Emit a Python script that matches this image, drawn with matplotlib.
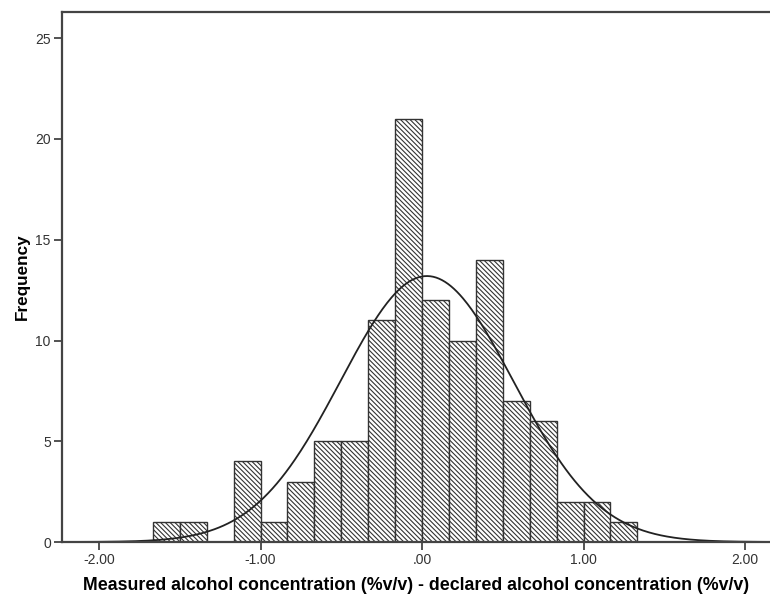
import numpy as np
import matplotlib.pyplot as plt

plt.rcParams['font.family'] = ['Liberation Sans', 'DejaVu Sans']
plt.rcParams['hatch.linewidth'] = 0.8
plt.rcParams['hatch.color'] = '#333333'

# Histogram bins (width 1/6) and counts
bin_width = 1 / 6
first_edge = -10 * bin_width
counts = [1, 1, 0, 4, 1, 3, 5, 5, 11, 21, 12, 10, 14, 7, 6, 2, 2, 1]

# Fitted normal curve parameters
mean = 0.03
std_dev = 0.534

x_ticks = [-2, -1, 0, 1, 2]
x_tick_labels = ['-2.00', '-1.00', '.00', '1.00', '2.00']
y_ticks = [0, 5, 10, 15, 20, 25]

fig = plt.figure(figsize=(7.70, 5.98), dpi=100)
ax = fig.add_axes([0.0805, 0.0936, 0.9195, 0.8863])

edges = first_edge + bin_width * np.arange(len(counts))
ax.bar(edges, counts, width=bin_width, align='edge', color='white',
       edgecolor='#333333', linewidth=1.0, hatch='\\' * 7)

n = sum(counts)
xs = np.linspace(-2.3, 2.3, 500)
ys = n * bin_width / (std_dev * np.sqrt(2 * np.pi)) * np.exp(-(xs - mean) ** 2 / (2 * std_dev ** 2))
ax.plot(xs, ys, color='#222222', linewidth=1.3)

ax.set_xlim(-2.23, 2.155)
ax.set_ylim(0, 26.3)
ax.set_xticks(x_ticks)
ax.set_xticklabels(x_tick_labels)
ax.set_yticks(y_ticks)

for side in ['left', 'top', 'bottom']:
    ax.spines[side].set_color('#444444')
    ax.spines[side].set_linewidth(1.6)
ax.spines['right'].set_visible(False)

ax.tick_params(axis='both', direction='out', length=6, width=1.3,
               color='#444444', labelsize=10, labelcolor='#333333', pad=2)

ax.set_xlabel('Measured alcohol concentration (%v/v) - declared alcohol concentration (%v/v)',
              fontsize=12.8, fontweight='bold', labelpad=7)
ax.set_ylabel('Frequency', fontsize=12.3, fontweight='bold', labelpad=4)

fig.savefig('out.png', dpi=100)
